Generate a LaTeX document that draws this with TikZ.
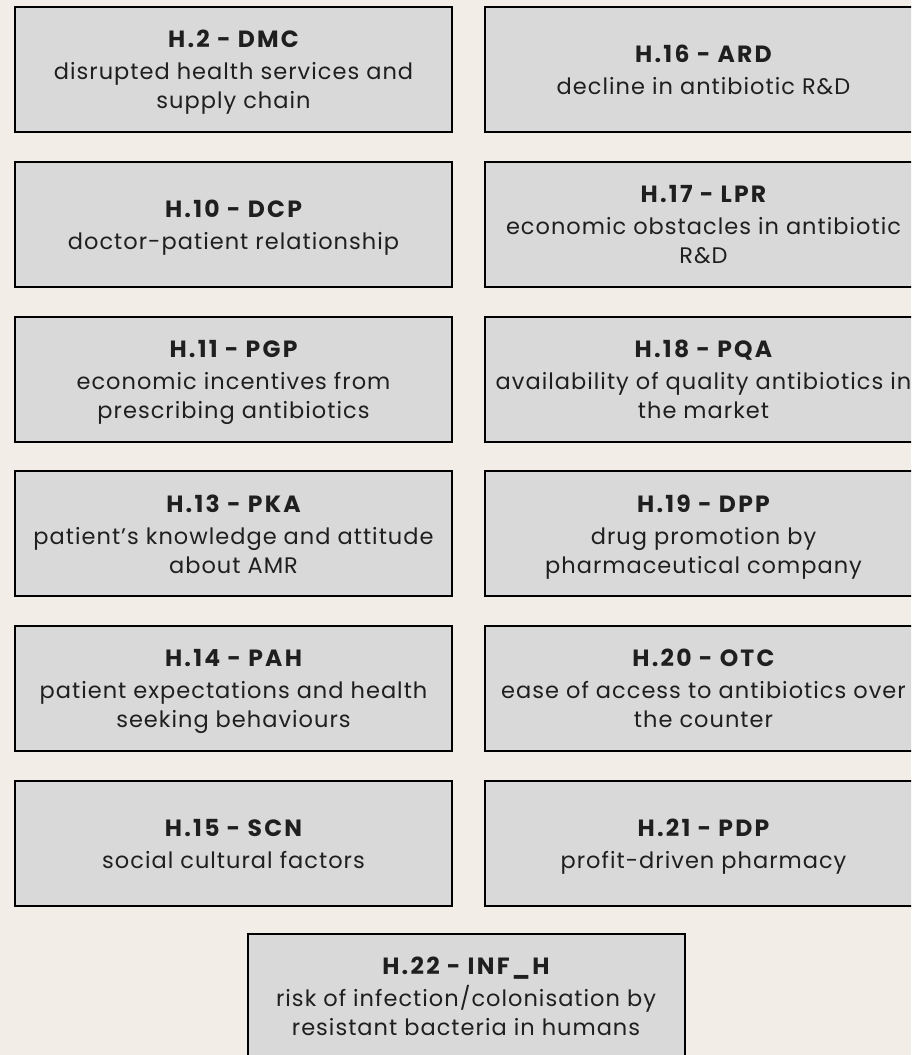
\documentclass[tikz,border=0pt]{standalone}
\usepackage{fontspec}
\setmainfont{Poppins}[LetterSpace=4.5, BoldFeatures={LetterSpace=9.5}]
\begin{document}
\begin{tikzpicture}[x=1pt,y=-1pt,
  hbox/.style={draw=black, line width=2pt, fill=boxgray, rectangle,
    minimum width=437pt, minimum height=125pt, inner sep=0pt,
    text depth=0pt, align=center, text=black!88,
    font=\fontsize{22.5}{29}\selectfont}]
\definecolor{paper}{HTML}{F2EEE7}
\definecolor{boxgray}{HTML}{D9D9D9}
\clip (0,0) rectangle (911,1055);
\fill[paper] (0,0) rectangle (911,1055);
\newcommand{\hd}[1]{{\fontsize{23.5}{29}\selectfont\bfseries #1}\\[3pt]}
% left column
\node[hbox] (dmc) at (233.5, 69.5)  {\hd{H.2 - DMC}disrupted health services and\\supply chain};
\node[hbox] (dcp) at (233.5, 224.3) {\hd{H.10 - DCP}doctor-patient relationship};
\node[hbox] (pgp) at (233.5, 379.1) {\hd{H.11 - PGP}economic incentives from\\prescribing antibiotics};
\node[hbox] (pka) at (233.5, 533.9) {\hd{H.13 - PKA}patient’s knowledge and attitude\\about AMR};
\node[hbox] (pah) at (233.5, 688.7) {\hd{H.14 - PAH}patient expectations and health\\seeking behaviours};
\node[hbox] (scn) at (233.5, 843.5) {\hd{H.15 - SCN}social cultural factors};
% right column
\node[hbox] (ard) at (703.5, 69.5)  {\hd{H.16 - ARD}decline in antibiotic R\&D};
\node[hbox] (lpr) at (703.5, 224.3) {\hd{H.17 - LPR}economic obstacles in antibiotic\\R\&D};
\node[hbox] (pqa) at (703.5, 379.1) {\hd{H.18 - PQA}availability of quality antibiotics in\\the market};
\node[hbox] (dpp) at (703.5, 533.9) {\hd{H.19 - DPP}drug promotion by\\pharmaceutical company};
\node[hbox] (otc) at (703.5, 688.7) {\hd{H.20 - OTC}ease of access to antibiotics over\\the counter};
\node[hbox] (pdp) at (703.5, 843.5) {\hd{H.21 - PDP}profit-driven pharmacy};
% bottom
\node[hbox] (infh) at (466, 996.5) {\hd{H.22 - INF\_H}risk of infection/colonisation by\\resistant bacteria in humans};
\end{tikzpicture}
\end{document}
